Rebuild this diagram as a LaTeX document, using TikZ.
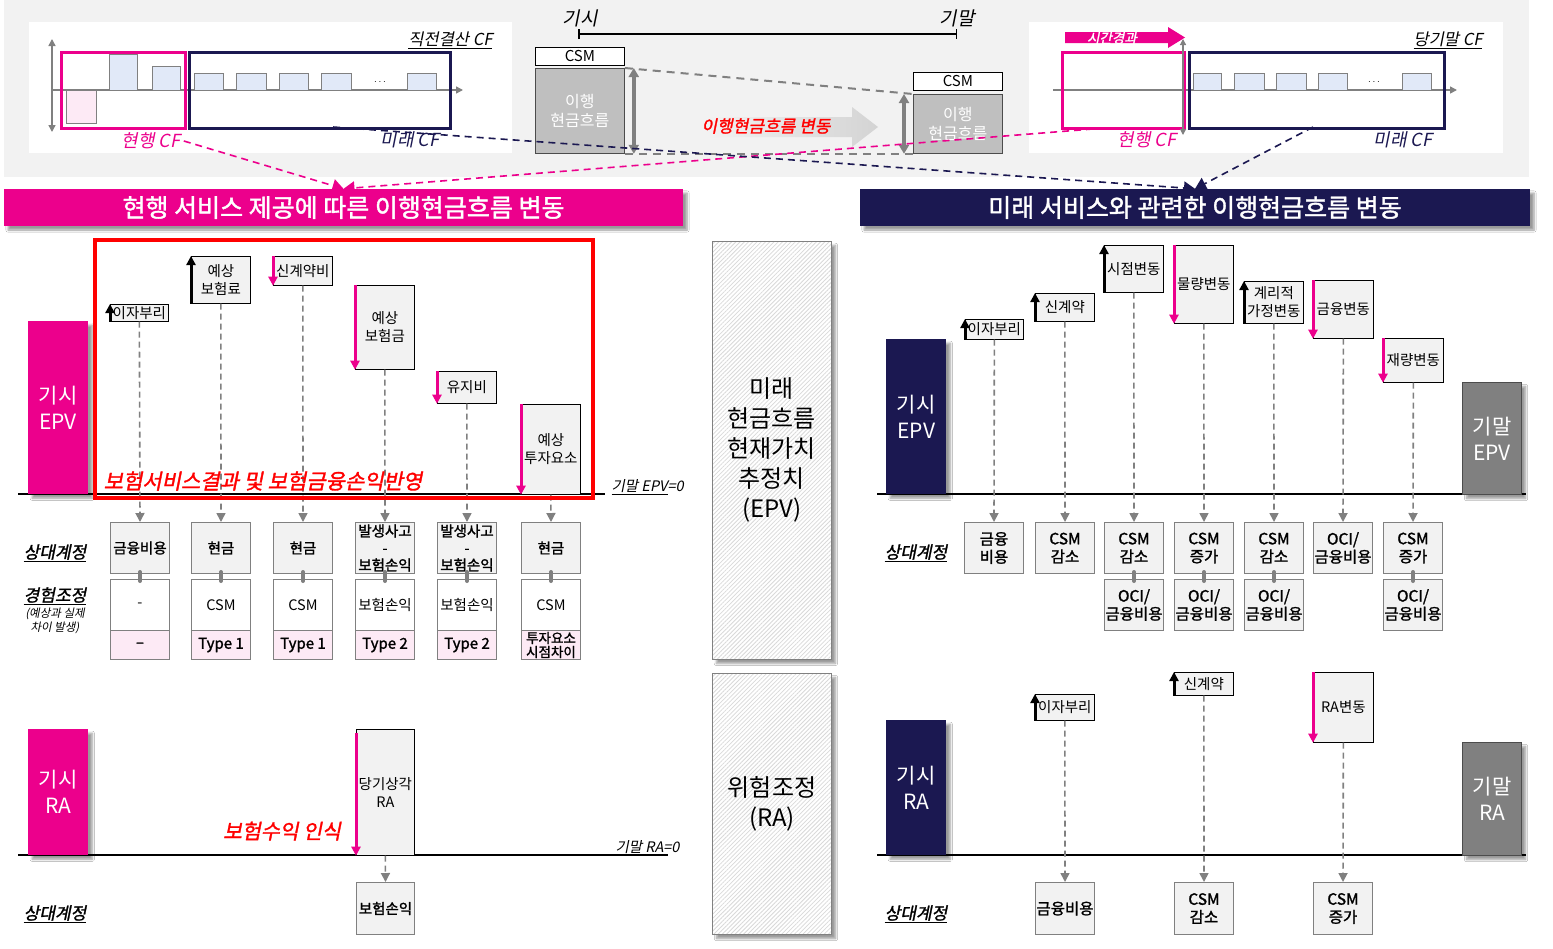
\documentclass[tikz,border=0pt]{standalone}
\usepackage{fontspec}
\setmainfont{Noto Sans CJK KR}[AutoFakeBold=1.5,AutoFakeSlant=0.2]
\usetikzlibrary{arrows.meta,shadows.blur,patterns.meta}
\definecolor{pk}{HTML}{EC008C}
\definecolor{nv}{HTML}{1B1851}
\definecolor{bgc}{HTML}{F2F2F2}
\definecolor{gry}{HTML}{808080}
\definecolor{bluebar}{HTML}{E1E9F8}
\definecolor{pinkbar}{HTML}{FDEAF5}
\definecolor{greybox}{HTML}{BFBFBF}
\definecolor{boxf}{HTML}{F2F2F2}
\definecolor{pinkcell}{HTML}{FDEAF5}
\newcommand\myfs[2]{\fontsize{#1}{#2}\selectfont}
\newcommand\mybox[6]{\node[#1,minimum width=#4pt,minimum height=#5pt] (#2) at (#3) {#6};}
\tikzset{
 evbox/.style={draw=black,line width=0.7pt,fill=boxf,inner sep=0pt,anchor=north west,align=center,font=\myfs{14.5}{18}},
 cpbox/.style={draw=gry,line width=1pt,fill=boxf,inner sep=0pt,anchor=north west,align=center,font=\bfseries\myfs{14.5}{17}},
 cpboxr/.style={cpbox,font=\bfseries\myfs{15.5}{18}},
 exbox/.style={draw=gry,line width=1pt,fill=white,inner sep=0pt,anchor=north west,align=center,font=\myfs{14.5}{16}},
 tybox/.style={draw=gry,line width=1pt,fill=pinkcell,inner sep=0pt,anchor=north west,align=center,font=\bfseries\myfs{15}{14}},
 sh/.style={blur shadow={shadow xshift=4pt,shadow yshift=-4pt,shadow opacity=40,shadow blur steps=6}},
 bigbox/.style={sh,inner sep=0pt,anchor=north west,align=center,text=white,font=\myfs{21}{26}},
 dashc/.style={draw=gry,line width=1.6pt,dash pattern=on 6pt off 4pt,-{Triangle[width=9pt,length=9pt]}},
 uparr/.style={draw=black,line width=3pt,-{Triangle[width=9pt,length=9pt]}},
 dnarr/.style={draw=pk,line width=3pt,-{Triangle[width=9pt,length=9pt]}},
 lbl/.style={font=\bfseries\itshape\myfs{17}{19}},
 hatchbox/.style={sh,draw=gry,line width=1pt,inner sep=0pt,anchor=north west,align=center,font=\myfs{24}{30},preaction={fill=white},pattern={Lines[angle=45,distance=3pt,line width=0.8pt]},pattern color=gray!30},
 link/.style={draw=gry,line width=4pt,line cap=round},
 csmbox/.style={draw=black,line width=0.8pt,fill=white,inner sep=0pt,anchor=north west,font=\myfs{15}{16}},
 cfbox/.style={draw=black!70,line width=0.8pt,fill=greybox,inner sep=0pt,anchor=north west,align=center,text=white,font=\myfs{16}{19}},
 bar/.style={draw=gry,line width=0.8pt},
 axis/.style={draw=gry,line width=1.5pt},
 topdash/.style={line width=1.6pt,dash pattern=on 7pt off 5pt,-{Triangle[width=13pt,length=11pt]}},
}
\begin{document}
\begin{tikzpicture}[x=1pt,y=-1pt]
\useasboundingbox (0,0) rectangle (1553,948);
\fill[white] (0,0) rectangle (1553,948);

%%% TOP AREA
\fill[bgc] (4,0) rectangle (1529,177);
\fill[white] (29,22) rectangle (512,153);
\fill[white] (1029,22) rectangle (1503,153);

% left panel
\draw[axis,{Triangle[width=7pt,length=7pt]}-{Triangle[width=7pt,length=7pt]}] (52,132) -- (52,39);
\draw[axis,-{Triangle[width=7pt,length=7pt]}] (52,90) -- (463,90);
\draw[bar,fill=pinkbar] (66,90) rectangle (96,123);
\foreach \a/\b/\t in {109/137/54,152/180/66,194/223/73,236/266/73,279/308/73,321/351/73,407/436/73}
  \draw[bar,fill=bluebar] (\a,\t) rectangle (\b,90);
\node at (380,82) {$\cdots$};
\node[draw=pk,line width=2.5pt,minimum width=124pt,minimum height=76pt,anchor=north west,inner sep=0pt] (curbL) at (60,51) {};
\node[draw=nv,line width=2.5pt,minimum width=261pt,minimum height=76pt,anchor=north west,inner sep=0pt] (futbL) at (188,51) {};
\node[anchor=east,font=\itshape\myfs{16.5}{17}] (prevcf) at (496,40) {\underline{직전결산 CF}};
\node[font=\itshape\myfs{18}{19},text=pk] (curL) at (151,141) {현행 CF};
\node[font=\itshape\myfs{18}{19},text=nv] (futL) at (410,140) {미래 CF};

% right panel
\draw[axis,-{Triangle[width=7pt,length=7pt]}] (1053,90) -- (1457,90);
\foreach \a/\b in {1193/1221,1234/1264,1276/1306,1318/1347,1402/1431}
  \draw[bar,fill=bluebar] (\a,73) rectangle (\b,90);
\node at (1374,82) {$\cdots$};
\node[draw=pk,line width=2.5pt,minimum width=122pt,minimum height=76pt,anchor=north west,inner sep=0pt] (curbR) at (1061,51) {};
\node[draw=nv,line width=2.5pt,minimum width=255pt,minimum height=76pt,anchor=north west,inner sep=0pt] (futbR) at (1188,51) {};
\draw[draw=gry,line width=1.2pt,{Triangle[width=6pt,length=6pt]}-{Triangle[width=6pt,length=6pt]}] (1183,135) -- (1183,39);
\fill[pk] (1065,32) -- (1168,32) -- (1168,27) -- (1185,37.5) -- (1168,48) -- (1168,43) -- (1065,43) -- cycle;
\node[text=white,font=\bfseries\itshape\myfs{13.5}{13}] (elapse) at (1112,38) {시간경과};
\node[anchor=east,font=\itshape\myfs{16.5}{17}] (curcf) at (1486,40) {\underline{당기말 CF}};
\node[font=\itshape\myfs{18}{19},text=pk] (curR) at (1147,140) {현행 CF};
\node[font=\itshape\myfs{18}{19},text=nv] (futR) at (1403,140) {미래 CF};

% middle
\node[font=\itshape\myfs{19}{20}] (tstart) at (580,18) {기시};
\node[font=\itshape\myfs{19}{20}] (tend) at (957,18) {기말};
\draw[line width=1.5pt,{Bar[width=10pt]}-{Bar[width=10pt]}] (578,34) -- (957,34);
\shade[left color=bgc,right color=black!17] (707,117) -- (852,117) -- (852,107) -- (878,127) -- (852,147) -- (852,137) -- (707,137) -- cycle;
\mybox{csmbox}{csmL}{535,47}{89}{18}{CSM}
\mybox{cfbox}{cfL}{535,68}{89}{85}{이행\\현금흐름}
\mybox{csmbox}{csmR}{913,72}{89}{18}{CSM}
\mybox{cfbox}{cfR}{913,94}{89}{59}{이행\\현금흐름}
\draw[gry,line width=2pt,dash pattern=on 8pt off 6pt] (cfL.north east) -- (cfR.north west);
\draw[gry,line width=2pt,dash pattern=on 8pt off 6pt] (cfL.south east) -- (cfR.south west);
\draw[gry,line width=3.5pt,{Triangle[width=10pt,length=9pt]}-{Triangle[width=10pt,length=9pt]}] ([xshift=9pt]cfL.north east) -- ([xshift=9pt]cfL.south east);
\draw[gry,line width=3.5pt,{Triangle[width=10pt,length=9pt]}-{Triangle[width=10pt,length=9pt]}] ([xshift=-9pt]cfR.north west) -- ([xshift=-9pt]cfR.south west);
\node[text=red,font=\bfseries\itshape\myfs{17}{17}] (chg) at (766,126) {이행현금흐름 변동};

% banners
\node[sh,fill=pk,minimum width=679pt,minimum height=37pt,inner sep=0pt,text=white,font=\bfseries\myfs{25}{26}] (banL) at (343.5,207.5) {현행 서비스 제공에 따른 이행현금흐름 변동};
\node[sh,fill=nv,minimum width=670pt,minimum height=37pt,inner sep=0pt,text=white,font=\bfseries\myfs{25}{26}] (banR) at (1195,207.5) {미래 서비스와 관련한 이행현금흐름 변동};

% top connectors
\coordinate (fl) at (333,127);
\coordinate (cr) at (1105,128);
\coordinate (fr) at (1313,127);
\draw[topdash,pk] (curL.east) -- (banL.north);
\draw[topdash,pk] (cr) -- (banL.north);
\draw[topdash,nv] (fl) -- (banR.north);
\draw[topdash,nv] (fr) -- (banR.north);

%%% LEFT EPV
\draw[line width=2.5pt] (18,494) -- (605,494);
\mybox{bigbox,fill=pk}{epvL}{28,321}{60}{173}{기시\\EPV}
\mybox{evbox}{e1}{110,304}{58}{17}{이자부리}
\mybox{evbox}{e2}{191,256}{59}{47}{예상\\보험료}
\mybox{evbox}{e3}{273,256}{59}{29}{신계약비}
\mybox{evbox}{e4}{355,285}{59}{84}{예상\\보험금}
\mybox{evbox}{e5}{437,371}{59}{32}{유지비}
\mybox{evbox}{e6}{521,404}{59}{90}{예상\\투자요소}
\draw[uparr] (e1.south west) -- (e1.north west);
\draw[uparr] (e2.south west) -- (e2.north west);
\draw[dnarr] (e3.north west) -- (e3.south west);
\draw[dnarr] (e4.north west) -- (e4.south west);
\draw[dnarr] (e5.north west) -- (e5.south west);
\draw[dnarr] (e6.north west) -- (e6.south west);
\mybox{cpbox}{c1}{110,522}{59}{51}{금융비용}
\mybox{cpbox}{c2}{191,522}{59}{51}{현금}
\mybox{cpbox}{c3}{273,522}{59}{51}{현금}
\mybox{cpbox}{c4}{355,522}{59}{51}{발생사고\\-\\보험손익}
\mybox{cpbox}{c5}{437,522}{59}{51}{발생사고\\-\\보험손익}
\mybox{cpbox}{c6}{521,522}{59}{51}{현금}
\mybox{exbox}{x1}{110,579}{59}{51}{-}
\mybox{exbox}{x2}{191,579}{59}{51}{CSM}
\mybox{exbox}{x3}{273,579}{59}{51}{CSM}
\mybox{exbox}{x4}{355,579}{59}{51}{보험손익}
\mybox{exbox}{x5}{437,579}{59}{51}{보험손익}
\mybox{exbox}{x6}{521,579}{59}{51}{CSM}
\mybox{tybox}{t1}{110,630}{59}{29}{–}
\mybox{tybox}{t2}{191,630}{59}{29}{Type 1}
\mybox{tybox}{t3}{273,630}{59}{29}{Type 1}
\mybox{tybox}{t4}{355,630}{59}{29}{Type 2}
\mybox{tybox}{t5}{437,630}{59}{29}{Type 2}
\mybox{tybox,font=\bfseries\myfs{13.5}{14}}{t6}{521,630}{59}{29}{투자요소\\시점차이}
\foreach \i in {1,...,6}{
  \draw[dashc] (e\i.south) -- (c\i.north);
  \draw[link] ([yshift=2pt]c\i.south) -- ([yshift=-2pt]x\i.north);
}
\draw[red,line width=4pt] (95,240) rectangle (593,498);
\node[text=red,font=\bfseries\itshape\myfs{21}{21}] (svc) at (263,481) {보험서비스결과 및 보험금융손익반영};
\node[anchor=west,font=\itshape\myfs{14.5}{15}] (endepv) at (608,487) {\underline{기말 EPV}=0};
\node[lbl] (cpL1) at (55,553) {\underline{상대계정}};
\node[lbl] (exL) at (55,596) {\underline{경험조정}};
\node[font=\itshape\myfs{11.5}{14},align=center] (exN) at (55,621) {(예상과 실제\\차이 발생)};

%%% CENTER
\mybox{hatchbox}{epvC}{712,241}{119}{418}{미래\\현금흐름\\현재가치\\추정치\\(EPV)}
\mybox{hatchbox}{raC}{712,673}{119}{261}{위험조정\\(RA)}

%%% LEFT RA
\draw[line width=2.5pt] (18,855) -- (668,855);
\mybox{bigbox,fill=pk}{raL}{28,729}{60}{126}{기시\\RA}
\mybox{evbox}{la}{356,729}{58}{126}{당기상각\\RA}
\draw[dnarr] ([yshift=-4pt]la.north west) -- (la.south west);
\mybox{cpbox}{lb}{356,882}{58}{52}{보험손익}
\draw[dashc] (la.south) -- (lb.north);
\node[text=red,font=\bfseries\itshape\myfs{20.5}{21}] (rev) at (282,831) {보험수익 인식};
\node[anchor=west,font=\itshape\myfs{14.5}{15}] (endra) at (612,847) {기말 RA=0};
\node[lbl] (cpL2) at (55,914) {\underline{상대계정}};

%%% RIGHT EPV
\draw[line width=2.5pt] (877,494) -- (1526,494);
\mybox{bigbox,fill=nv}{epvR}{886,339}{60}{155}{기시\\EPV}
\mybox{bigbox,fill=gry,draw=black!70,line width=1pt}{epvE}{1462,382}{59}{112}{기말\\EPV}
\mybox{evbox}{r1}{965,319}{58}{20}{이자부리}
\mybox{evbox}{r2}{1035,293}{59}{28}{신계약}
\mybox{evbox}{r3}{1104,245}{59}{47}{시점변동}
\mybox{evbox}{r4}{1174,245}{59}{78}{물량변동}
\mybox{evbox}{r5}{1244,281}{59}{42}{계리적\\가정변동}
\mybox{evbox}{r6}{1313,280}{60}{58}{금융변동}
\mybox{evbox}{r7}{1383,338}{60}{44}{재량변동}
\draw[uparr] (r1.south west) -- (r1.north west);
\draw[uparr] (r2.south west) -- (r2.north west);
\draw[uparr] (r3.south west) -- (r3.north west);
\draw[dnarr] (r4.north west) -- (r4.south west);
\draw[uparr] (r5.south west) -- (r5.north west);
\draw[dnarr] (r6.north west) -- (r6.south west);
\draw[dnarr] (r7.north west) -- (r7.south west);
\mybox{cpboxr}{d1}{964,522}{59}{51}{금융\\비용}
\mybox{cpboxr}{d2}{1035,522}{59}{51}{CSM\\감소}
\mybox{cpboxr}{d3}{1104,522}{59}{51}{CSM\\감소}
\mybox{cpboxr}{d4}{1174,522}{59}{51}{CSM\\증가}
\mybox{cpboxr}{d5}{1244,522}{59}{51}{CSM\\감소}
\mybox{cpboxr}{d6}{1313,522}{59}{51}{OCI/\\금융비용}
\mybox{cpboxr}{d7}{1383,522}{59}{51}{CSM\\증가}
\foreach \i in {1,...,7} \draw[dashc] (r\i.south) -- (d\i.north);
\mybox{cpboxr}{g3}{1104,579}{59}{51}{OCI/\\금융비용}
\mybox{cpboxr}{g4}{1174,579}{59}{51}{OCI/\\금융비용}
\mybox{cpboxr}{g5}{1244,579}{59}{51}{OCI/\\금융비용}
\mybox{cpboxr}{g7}{1383,579}{59}{51}{OCI/\\금융비용}
\foreach \i in {3,4,5,7} \draw[link] ([yshift=2pt]d\i.south) -- ([yshift=-2pt]g\i.north);
\node[lbl] (cpR1) at (916,553) {\underline{상대계정}};

%%% RIGHT RA
\draw[line width=2.5pt] (877,855) -- (1526,855);
\mybox{bigbox,fill=nv}{raR}{886,720}{60}{135}{기시\\RA}
\mybox{bigbox,fill=gry,draw=black!70,line width=1pt}{raE}{1462,742}{59}{113}{기말\\RA}
\mybox{evbox}{q1}{1035,694}{59}{26}{이자부리}
\mybox{evbox}{q2}{1174,672}{59}{23}{신계약}
\mybox{evbox}{q3}{1313,672}{60}{70}{RA변동}
\draw[uparr] (q1.south west) -- (q1.north west);
\draw[uparr] (q2.south west) -- (q2.north west);
\draw[dnarr] (q3.north west) -- (q3.south west);
\mybox{cpboxr}{s1}{1035,882}{59}{52}{금융비용}
\mybox{cpboxr}{s2}{1174,882}{59}{52}{CSM\\감소}
\mybox{cpboxr}{s3}{1313,882}{59}{52}{CSM\\증가}
\foreach \i in {1,2,3} \draw[dashc] (q\i.south) -- (s\i.north);
\node[lbl] (cpR2) at (916,914) {\underline{상대계정}};
\end{tikzpicture}
\end{document}
